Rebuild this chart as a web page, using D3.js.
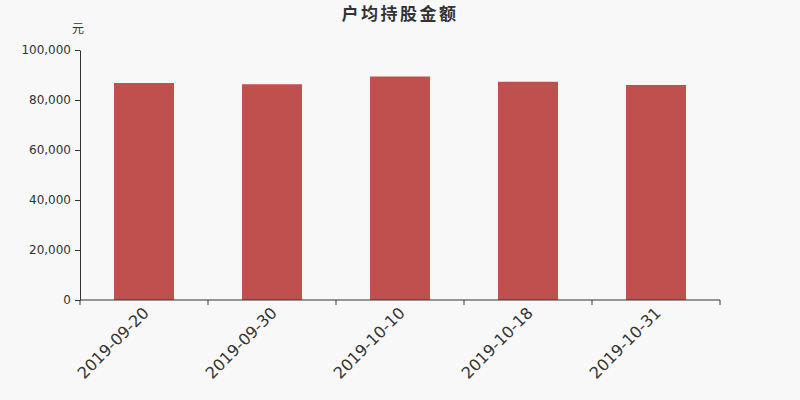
<!DOCTYPE html>
<html>
<head>
<meta charset="utf-8">
<script src="https://cdn.jsdelivr.net/npm/d3@7"></script>
<style>
  body { margin: 0; background: #f8f8f8; }
  #chart { width: 800px; height: 400px; }
</style>
</head>
<body>
<div id="chart"></div>
<script>
const dates = ["2019-09-20", "2019-09-30", "2019-10-10", "2019-10-18", "2019-10-31"];
const amounts = [86800, 86300, 89400, 87300, 86000];
const yTicks = [0, 20000, 40000, 60000, 80000, 100000];

function draw_chart() {
    const width = 800, height = 400;
    const margin = { top: 50, right: 80, bottom: 100, left: 80 };

    const svg = d3.select("#chart").append("svg")
        .attr("width", width)
        .attr("height", height)
        .style("font-family", "'DejaVu Sans', 'Noto Sans CJK SC', sans-serif");

    svg.append("rect")
        .attr("width", width)
        .attr("height", height)
        .attr("fill", "#f8f8f8");

    const x = d3.scaleBand()
        .domain(dates)
        .range([margin.left, width - margin.right]);

    const y = d3.scaleLinear()
        .domain([0, 100000])
        .range([height - margin.bottom, margin.top]);

    // title + unit
    svg.append("text")
        .attr("x", width / 2)
        .attr("y", 20)
        .attr("text-anchor", "middle")
        .attr("font-size", 17)
        .attr("font-weight", "bold")
        .attr("letter-spacing", 2.5)
        .attr("fill", "#333")
        .style("font-family", "'Noto Sans CJK SC', sans-serif")
        .text("户均持股金额");

    svg.append("text")
        .attr("x", margin.left - 2)
        .attr("y", 33)
        .attr("text-anchor", "middle")
        .attr("font-size", 12)
        .attr("fill", "#333")
        .style("font-family", "'Noto Sans CJK SC', sans-serif")
        .text("元");

    // bars
    const barW = 60;
    svg.selectAll("rect.bar")
        .data(amounts)
        .join("rect")
        .attr("class", "bar")
        .attr("x", (d, i) => x(dates[i]) + (x.bandwidth() - barW) / 2)
        .attr("y", d => y(d))
        .attr("width", barW)
        .attr("height", d => y(0) - y(d))
        .attr("fill", "#c0504e");

    // y axis
    const yAxis = svg.append("g")
        .attr("transform", `translate(${margin.left},0)`)
        .call(d3.axisLeft(y).tickValues(yTicks).tickFormat(d3.format(",")).tickSize(5).tickPadding(4).tickSizeOuter(0))
        .attr("font-family", null)
        .attr("font-size", null);
    yAxis.selectAll("text").attr("font-size", 12).attr("fill", "#333");
    yAxis.selectAll("line, path").attr("stroke", "#333");

    // x axis
    const xTickPos = d3.range(dates.length + 1).map(i => margin.left + i * x.step());
    const xAxis = svg.append("g")
        .attr("transform", `translate(0,${y(0)})`);
    xAxis.append("line")
        .attr("x1", margin.left).attr("x2", width - margin.right)
        .attr("stroke", "#333");
    xAxis.selectAll("line.tick")
        .data(xTickPos)
        .join("line")
        .attr("class", "tick")
        .attr("x1", d => d).attr("x2", d => d)
        .attr("y1", 0).attr("y2", 5)
        .attr("stroke", "#333");
    xAxis.selectAll("text")
        .data(dates)
        .join("text")
        .attr("transform", d => `translate(${x(d) + x.bandwidth() / 2 + 2},${10}) rotate(-45)`)
        .attr("text-anchor", "end")
        .attr("dy", "0.35em")
        .attr("font-size", 16)
        .attr("fill", "#333")
        .text(d => d);
}

draw_chart();
</script>
</body>
</html>
